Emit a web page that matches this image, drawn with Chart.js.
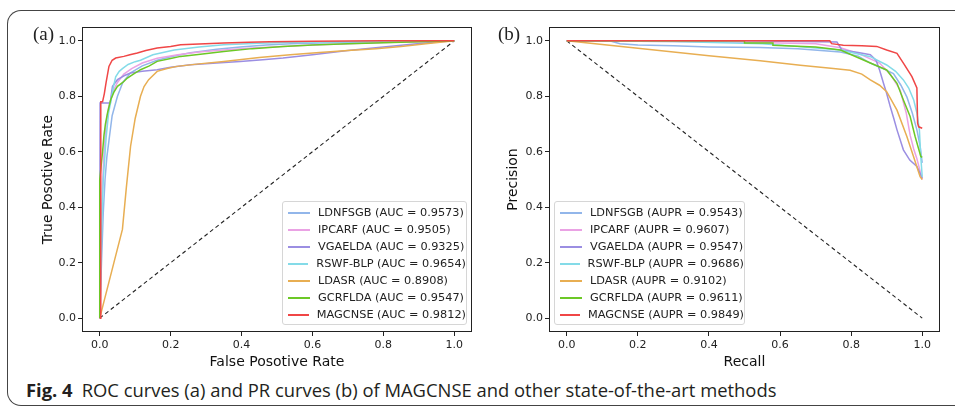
<!DOCTYPE html>
<html lang="en">
<head>
  <meta charset="UTF-8">
  <title>ROC and PR curves</title>
  <script src="https://cdn.jsdelivr.net/npm/chart.js"></script>
  <style>
    html, body {
      margin: 0;
      width: 955px;
      height: 407px;
      background: white;
      overflow: hidden;
      position: relative;
      font-family: "DejaVu Sans", sans-serif;
    }

    #frame {
      position: absolute;
      left: 7px;
      top: 10px;
      width: 1000px;
      height: 396px;
      border: 1.5px solid #444;
      border-right: none;
      border-radius: 14px 0 0 14px;
      box-sizing: border-box;
    }

    canvas {
      position: absolute;
      top: 0;
    }

    #rocChart { left: 0; }
    #prChart { left: 480px; }

    .panel-tag {
      position: absolute;
      top: 23px;
      font-family: "Liberation Serif", serif;
      font-size: 19px;
      color: #222;
    }

    .legend {
      position: absolute;
      top: 201px;
      height: 124px;
      box-sizing: border-box;
      background: white;
      border: 1px solid #d6d6d6;
      border-radius: 3px;
      padding-top: 2px;
      font-size: 11.3px;
      color: #222;
    }

    .legend .row {
      display: flex;
      align-items: center;
      height: 17px;
      white-space: nowrap;
    }

    .legend .swatch {
      width: 22px;
      height: 2px;
      margin: 0 8px 0 5px;
    }

    #caption {
      position: absolute;
      left: 26px;
      top: 377px;
      font-family: "Open Sans", sans-serif;
      font-size: 18.4px;
      color: #231f20;
      white-space: nowrap;
    }

    #caption b { margin-right: 9px; }
  </style>
</head>
<body>
  <div id="frame"></div>
  <canvas id="rocChart" width="480" height="375"></canvas>
  <canvas id="prChart" width="475" height="375"></canvas>
  <div class="panel-tag" style="left: 33px;">(a)</div>
  <div class="panel-tag" style="left: 498px;">(b)</div>
  <div class="legend" id="rocLegend" style="left: 282px; width: 185px;"></div>
  <div class="legend" id="prLegend" style="left: 554px; width: 191px;"></div>
  <div id="caption"><b>Fig. 4</b>ROC curves (a) and PR curves (b) of MAGCNSE and other state-of-the-art methods</div>

  <script>
    const methods = ["LDNFSGB", "IPCARF", "VGAELDA", "RSWF-BLP", "LDASR", "GCRFLDA", "MAGCNSE"];
    const colors = ["#92b6ea", "#eaa2e4", "#9b8ee2", "#84dbe8", "#e8ae52", "#6cc826", "#f04646"];
    const aucValues = ["0.9573", "0.9505", "0.9325", "0.9654", "0.8908", "0.9547", "0.9812"];
    const auprValues = ["0.9543", "0.9607", "0.9547", "0.9686", "0.9102", "0.9611", "0.9849"];
    const tickValues = [0, 0.2, 0.4, 0.6, 0.8, 1.0];

    // ROC curves: false positive rate / true positive rate
    const rocFpr = [
      [0, 0.005, 0.01, 0.015, 0.02, 0.026, 0.035, 0.05, 0.065, 0.087, 0.12, 0.162, 0.2, 0.256, 0.33, 0.396, 0.47, 0.54, 0.65, 0.75, 0.85, 0.93, 1.0],
      [0, 0.004, 0.008, 0.012, 0.018, 0.025, 0.035, 0.05, 0.068, 0.09, 0.12, 0.162, 0.22, 0.28, 0.35, 0.43, 0.517, 0.6, 0.7, 0.8, 0.9, 1.0],
      [0, 0.001, 0.03, 0.033, 0.036, 0.05, 0.07, 0.087, 0.12, 0.162, 0.2, 0.256, 0.33, 0.396, 0.46, 0.517, 0.6, 0.7, 0.8, 0.88, 0.95, 1.0],
      [0, 0.005, 0.01, 0.018, 0.025, 0.031, 0.038, 0.045, 0.055, 0.064, 0.08, 0.1, 0.115, 0.15, 0.21, 0.28, 0.35, 0.45, 0.55, 0.7, 0.85, 1.0],
      [0, 0.02, 0.04, 0.064, 0.075, 0.087, 0.1, 0.115, 0.125, 0.138, 0.162, 0.19, 0.218, 0.28, 0.35, 0.45, 0.537, 0.62, 0.7, 0.78, 0.85, 0.92, 1.0],
      [0, 0, 0.004, 0.008, 0.012, 0.016, 0.022, 0.031, 0.04, 0.05, 0.065, 0.078, 0.095, 0.115, 0.14, 0.162, 0.2, 0.228, 0.29, 0.35, 0.43, 0.517, 0.6, 0.7, 0.8, 0.9, 1.0],
      [0, 0.003, 0.003, 0.008, 0.013, 0.018, 0.026, 0.035, 0.045, 0.068, 0.085, 0.106, 0.13, 0.162, 0.2, 0.228, 0.28, 0.35, 0.42, 0.48, 0.6, 0.8, 1.0]
    ];
    const rocTpr = [
      [0, 0.2, 0.38, 0.5, 0.58, 0.64, 0.73, 0.80, 0.85, 0.885, 0.91, 0.93, 0.943, 0.957, 0.97, 0.978, 0.985, 0.99, 0.993, 0.995, 0.997, 0.999, 1.0],
      [0, 0.3, 0.48, 0.6, 0.7, 0.76, 0.81, 0.85, 0.88, 0.9, 0.92, 0.937, 0.95, 0.96, 0.967, 0.974, 0.98, 0.985, 0.99, 0.994, 0.997, 1.0],
      [0, 0.776, 0.776, 0.81, 0.836, 0.86, 0.875, 0.884, 0.89, 0.896, 0.905, 0.914, 0.92, 0.926, 0.932, 0.938, 0.95, 0.965, 0.978, 0.988, 0.996, 1.0],
      [0, 0.3, 0.5, 0.65, 0.74, 0.78, 0.83, 0.87, 0.89, 0.9, 0.915, 0.925, 0.93, 0.95, 0.967, 0.978, 0.986, 0.991, 0.995, 0.997, 0.999, 1.0],
      [0, 0.1, 0.2, 0.32, 0.47, 0.62, 0.72, 0.80, 0.835, 0.86, 0.89, 0.9, 0.908, 0.917, 0.926, 0.94, 0.95, 0.958, 0.965, 0.972, 0.98, 0.99, 1.0],
      [0, 0.5, 0.55, 0.6, 0.66, 0.7, 0.74, 0.788, 0.815, 0.836, 0.85, 0.866, 0.88, 0.896, 0.91, 0.926, 0.936, 0.944, 0.953, 0.962, 0.972, 0.98, 0.985, 0.99, 0.993, 0.997, 1.0],
      [0, 0, 0.78, 0.78, 0.81, 0.85, 0.908, 0.93, 0.938, 0.944, 0.95, 0.956, 0.965, 0.974, 0.98, 0.986, 0.989, 0.992, 0.995, 0.997, 0.999, 1.0, 1.0]
    ];

    // PR curves: recall / precision
    const prRecall = [
      [0, 0.12, 0.15, 0.2, 0.3, 0.4, 0.544, 0.65, 0.77, 0.82, 0.854, 0.89, 0.919, 0.94, 0.957, 0.972, 0.985, 0.994, 1.0],
      [0, 0.3, 0.5, 0.7, 0.77, 0.82, 0.88, 0.91, 0.938, 0.955, 0.966, 0.976, 0.985, 0.992, 1.0],
      [0, 0.5, 0.76, 0.774, 0.82, 0.854, 0.87, 0.88, 0.891, 0.9, 0.91, 0.92, 0.929, 0.947, 0.965, 0.985, 1.0],
      [0, 0.3, 0.55, 0.65, 0.77, 0.854, 0.9, 0.925, 0.947, 0.962, 0.976, 0.985, 0.992, 0.996, 1.0],
      [0, 0.2, 0.4, 0.544, 0.657, 0.75, 0.797, 0.83, 0.854, 0.88, 0.9, 0.929, 0.957, 0.975, 0.994, 1.0],
      [0, 0.3, 0.5, 0.5, 0.58, 0.58, 0.7, 0.77, 0.854, 0.9, 0.929, 0.947, 0.966, 0.98, 0.996, 1.0],
      [0, 0.3, 0.5, 0.74, 0.745, 0.778, 0.83, 0.872, 0.9, 0.929, 0.947, 0.971, 0.985, 0.987, 0.99, 1.0]
    ];
    const prPrecision = [
      [1.0, 1.0, 0.99, 0.985, 0.982, 0.978, 0.976, 0.972, 0.96, 0.945, 0.92, 0.9, 0.882, 0.84, 0.797, 0.74, 0.679, 0.62, 0.56],
      [1.0, 0.998, 0.995, 0.99, 0.975, 0.955, 0.92, 0.88, 0.823, 0.74, 0.66, 0.61, 0.575, 0.54, 0.5],
      [1.0, 1.0, 0.996, 0.967, 0.958, 0.95, 0.93, 0.895, 0.847, 0.81, 0.763, 0.72, 0.679, 0.607, 0.57, 0.547, 0.505],
      [1.0, 0.998, 0.99, 0.98, 0.967, 0.943, 0.913, 0.89, 0.859, 0.83, 0.787, 0.74, 0.679, 0.58, 0.51],
      [1.0, 0.973, 0.946, 0.928, 0.912, 0.9, 0.894, 0.88, 0.859, 0.84, 0.817, 0.75, 0.654, 0.585, 0.51, 0.5],
      [1.0, 1.0, 1.0, 0.992, 0.992, 0.984, 0.978, 0.967, 0.92, 0.895, 0.847, 0.787, 0.727, 0.655, 0.583, 0.58],
      [1.0, 1.0, 1.0, 1.0, 0.99, 0.984, 0.982, 0.98, 0.967, 0.955, 0.92, 0.871, 0.83, 0.703, 0.69, 0.685]
    ];

    // chance lines
    const rocChanceX = [0, 1];
    const rocChanceY = [0, 1];
    const prChanceX = [0, 1];
    const prChanceY = [1, 0];

    Chart.defaults.font.family = "'DejaVu Sans', sans-serif";
    Chart.defaults.color = "#222";

    const framePlugin = {
      id: "frame",
      afterDraw(chart) {
        const ctx = chart.ctx;
        const a = chart.chartArea;
        ctx.save();
        ctx.strokeStyle = "#222";
        ctx.lineWidth = 1;
        ctx.strokeRect(a.left + 0.5, a.top + 0.5, a.right - a.left - 1, a.bottom - a.top - 1);
        ctx.restore();
      }
    };

    function toPoints(xs, ys) {
      return xs.map((x, i) => ({ x: x, y: ys[i] }));
    }

    function makeAxis(title, fixedSize, titlePad, horizontal) {
      return {
        type: "linear",
        min: -0.05,
        max: 1.05,
        afterBuildTicks: scale => { scale.ticks = tickValues.map(v => ({ value: v })); },
        afterFit: scale => {
          if (horizontal) scale.height = fixedSize; else scale.width = fixedSize;
        },
        grid: { drawOnChartArea: false, drawTicks: true, tickLength: 4, color: "#222" },
        border: { display: false },
        ticks: {
          padding: horizontal ? 3 : 2,
          color: "#222",
          font: { size: 11 },
          callback: v => v.toFixed(1)
        },
        title: {
          display: true,
          text: title,
          color: "#111",
          font: { size: 14 },
          padding: titlePad
        }
      };
    }

    function buildChart(canvasId, xs, ys, chanceX, chanceY, xTitle, yTitle, yWidth, yTitlePad, rightPad) {
      const datasets = methods.map((name, i) => ({
        label: name,
        data: toPoints(xs[i], ys[i]),
        borderColor: colors[i],
        borderWidth: 1.5,
        pointRadius: 0,
        showLine: true,
        fill: false,
        tension: 0,
        order: methods.length - i
      }));
      datasets.push({
        label: "chance",
        data: toPoints(chanceX, chanceY),
        borderColor: "#222",
        borderWidth: 1.1,
        borderDash: [4, 3],
        pointRadius: 0,
        showLine: true,
        fill: false,
        order: methods.length + 1
      });

      return new Chart(document.getElementById(canvasId), {
        type: "scatter",
        data: { datasets: datasets },
        options: {
          responsive: false,
          animation: false,
          devicePixelRatio: 1,
          layout: { padding: { top: 27, right: rightPad, left: 0, bottom: 0 } },
          scales: {
            x: makeAxis(xTitle, 43, { top: 0, bottom: 4 }, true),
            y: makeAxis(yTitle, yWidth, { top: yTitlePad, bottom: 0 }, false)
          },
          plugins: {
            legend: { display: false },
            tooltip: { enabled: false }
          }
        },
        plugins: [framePlugin]
      });
    }

    function buildLegend(elId, metric, values) {
      const el = document.getElementById(elId);
      methods.forEach((name, i) => {
        const row = document.createElement("div");
        row.className = "row";
        const sw = document.createElement("span");
        sw.className = "swatch";
        sw.style.background = colors[i];
        const txt = document.createElement("span");
        txt.textContent = `${name} (${metric} = ${values[i]})`;
        row.appendChild(sw);
        row.appendChild(txt);
        el.appendChild(row);
      });
    }

    buildChart("rocChart", rocFpr, rocTpr, rocChanceX, rocChanceY,
      "False Posotive Rate", "True Posotive Rate", 82, 40, 8);
    buildChart("prChart", prRecall, prPrecision, prChanceX, prChanceY,
      "Recall", "Precision", 69, 25, 15);

    buildLegend("rocLegend", "AUC", aucValues);
    buildLegend("prLegend", "AUPR", auprValues);
  </script>
</body>
</html>
